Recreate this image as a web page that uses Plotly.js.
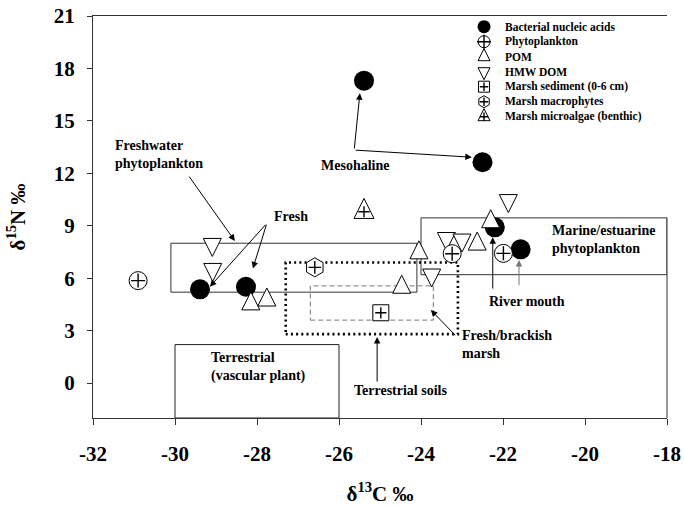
<!DOCTYPE html>
<html><head><meta charset="utf-8">
<script src="https://cdn.plot.ly/plotly-3.0.1.min.js"></script>
<style>html,body{margin:0;padding:0;background:#fff}</style>
</head><body><div id="chart" style="width:684px;height:506px"></div>
<script>
// ---- data ----
const bactX = [-29.39, -28.27, -25.39, -22.50, -22.20, -21.57];
const bactY = [5.36, 5.51, 17.30, 12.63, 8.91, 7.65];
const phytoX = [-30.90, -23.24, -21.99];
const phytoY = [5.86, 7.40, 7.42];
const pomX = [-28.15, -27.76, -24.05, -24.47, -22.63, -22.30];
const pomY = [4.53, 4.75, 7.45, 5.48, 7.95, 9.23];
const hmwX = [-29.09, -29.08, -23.74, -23.38, -23.00, -21.87];
const hmwY = [7.93, 6.50, 6.18, 8.27, 8.18, 10.44];
const sedX = [-24.98], sedY = [4.02];
const macroX = [-26.59], macroY = [6.62];
const algaeX = [-25.39], algaeY = [9.80];

// source regions (boxes)
const regionX0 = [-30.1, -24.0, -30.0, -27.3, -26.7];
const regionX1 = [-24.1, -18.0, -26.0, -23.1, -23.7];
const regionY0 = [5.2, 6.2, -2.0, 2.8, 3.6];
const regionY1 = [8.0, 9.45, 2.2, 6.9, 5.56];

// labels
const labelText = ['Freshwater<br>phytoplankton', 'Fresh', 'Mesohaline', 'Marine/estuarine<br>phytoplankton',
  'River mouth', 'Fresh/brackish<br>marsh', 'Terrestrial soils', 'Terrestrial<br>(vascular plant)'];
const labelX = [-31.52, -27.16, -25.61, -20.85, -21.41, -23.05, -24.51, -29.17];
const labelY = [13.05, 9.52, 12.47, 8.24, 4.65, 2.23, -0.40, 0.89];

// pointer arrows (tail -> head)
const arrowFromX = [-29.68, -27.76, -27.76, -25.63, -25.63, -22.25, -21.61, -23.13, -25.07];
const arrowFromY = [11.90, 9.14, 9.14, 13.33, 13.33, 5.32, 5.51, 2.65, 0.0];
const arrowToX = [-28.54, -29.15, -28.10, -25.49, -22.76, -22.25, -21.61, -23.76, -25.07];
const arrowToY = [8.13, 5.51, 6.56, 16.58, 12.92, 8.34, 7.04, 4.18, 2.63];

// axes
const xTickVals = [-32, -30, -28, -26, -24, -22, -20, -18];
const xTickText = ['-32', '-30', '-28', '-26', '-24', '-22', '-20', '-18'];
const yTickVals = [0, 3, 6, 9, 12, 15, 18, 21];
const yTickText = ['0', '3', '6', '9', '12', '15', '18', '21'];

// legend
const legendNames = ['Bacterial nucleic acids', 'Phytoplankton', 'POM', 'HMW DOM',
  'Marsh sediment (0-6 cm)', 'Marsh macrophytes', 'Marsh microalgae (benthic)'];
const legendRows = [1, 2, 3, 4, 5, 6, 7];

// ---- drawing ----
const FONT = 'Liberation Serif';
const traces = [];
function add(x, y, marker, ax) {
  traces.push({type: 'scatter', mode: 'markers', x: x, y: y, xaxis: ax ? 'x2' : 'x', yaxis: ax ? 'y2' : 'y',
    hoverinfo: 'skip', showlegend: false, cliponaxis: false, marker: marker});
}
const open = (sym, size, extra) => Object.assign({symbol: sym, size: size, color: 'white', line: {color: 'black', width: 1}}, extra || {});
const plus = (size) => ({symbol: 'cross-thin-open', size: size, color: 'black', line: {color: 'black', width: 1.4}});
const triUp = (size) => open('arrow-down', size, {angle: 180, standoff: size * 2 / 3});
const triDown = (size) => open('arrow-down', size, {angle: 0, standoff: size * 2 / 3});

function series(leg) {
  const X = leg ? [0] : null;
  const pick = (arr, i) => leg ? [legendRows[i]] : arr;
  add(leg ? X : bactX, pick(bactY, 0), {symbol: 'circle', size: leg ? 13 : 20, color: 'black', line: {width: 0}}, leg);
  add(leg ? X : hmwX, pick(hmwY, 3), triDown(leg ? 12 : 18), leg);
  add(leg ? X : pomX, pick(pomY, 2), triUp(leg ? 12 : 18), leg);
  add(leg ? X : phytoX, pick(phytoY, 1), open('circle', leg ? 12 : 18), leg);
  add(leg ? X : phytoX, pick(phytoY, 1), plus(leg ? 10 : 10), leg);
  add(leg ? X : sedX, pick(sedY, 4), open('square', leg ? 11 : 16), leg);
  add(leg ? X : sedX, pick(sedY, 4), plus(leg ? 6 : 8), leg);
  add(leg ? X : macroX, pick(macroY, 5), open('hexagon', leg ? 12 : 19), leg);
  add(leg ? X : macroX, pick(macroY, 5), plus(leg ? 6 : 9), leg);
  add(leg ? X : algaeX, pick(algaeY, 6), triUp(leg ? 12 : 20), leg);
  add(leg ? X : algaeX, pick(algaeY, 6), plus(leg ? 6 : 8), leg);
}
series(false);
series(true);

const regionStyle = [
  {color: '#333', width: 1, dash: 'solid'},
  {color: '#333', width: 1, dash: 'solid'},
  {color: '#222', width: 1, dash: 'solid'},
  {color: '#000', width: 2.6, dash: '2px,3.2px'},
  {color: '#777', width: 1, dash: '5px,3px'}
];
const shapes = regionX0.map((x0, i) => ({type: 'rect', xref: 'x', yref: 'y', x0: x0, x1: regionX1[i],
  y0: regionY0[i], y1: regionY1[i], line: regionStyle[i], fillcolor: 'rgba(0,0,0,0)', layer: 'below'}));
shapes.push({type: 'line', xref: 'paper', yref: 'y', x0: 1, x1: 1, y0: -2, y1: regionY1[1], line: {color: '#333', width: 1}});

const labelAlign = ['left', 'center', 'center', 'left', 'center', 'left', 'center', 'left'];
const annotations = labelText.map((t, i) => ({xref: 'x', yref: 'y', x: labelX[i], y: labelY[i], text: t,
  showarrow: false, xanchor: labelAlign[i], align: 'left', yanchor: 'middle',
  font: {family: FONT, size: 14, weight: 'bold', color: 'black'}}));
const arrowColor = ['#000', '#000', '#000', '#000', '#000', '#000', '#777', '#000', '#000'];
arrowToX.forEach((x, i) => annotations.push({xref: 'x', yref: 'y', axref: 'x', ayref: 'y', x: x, y: arrowToY[i],
  ax: arrowFromX[i], ay: arrowFromY[i], text: '', showarrow: true, arrowhead: 2, arrowsize: 1.3, arrowwidth: 1,
  arrowcolor: arrowColor[i], standoff: 0, startstandoff: 0}));
legendNames.forEach((n, i) => annotations.push({xref: 'x2', yref: 'y2', x: 1, y: legendRows[i], text: n,
  showarrow: false, xanchor: 'left', yanchor: 'middle', font: {family: FONT, size: 11.5, weight: 'bold', color: 'black'}}));

const layout = {
  width: 684, height: 506, margin: {l: 93, r: 17, t: 16, b: 88},
  paper_bgcolor: 'white', plot_bgcolor: 'white', showlegend: false,
  font: {family: FONT, color: 'black'},
  xaxis: {range: [-32, -18], tickvals: xTickVals, ticktext: xTickText, ticks: 'outside', ticklen: 6, tickwidth: 1,
    tickcolor: '#333', showline: true, mirror: true, linecolor: '#333', linewidth: 1, showgrid: false, zeroline: false,
    ticklabelstandoff: 11, tickfont: {family: FONT, size: 21, weight: 'bold'},
    title: {text: 'δ<sup>13</sup>C ‰', font: {family: FONT, size: 21, weight: 'bold'}, standoff: 21}},
  yaxis: {range: [-2, 21], tickvals: yTickVals, ticktext: yTickText, ticks: 'outside', ticklen: 5, tickwidth: 1,
    tickcolor: '#333', showline: true, linecolor: '#333', linewidth: 1, showgrid: false, zeroline: false,
    ticklabelstandoff: 8, tickfont: {family: FONT, size: 21, weight: 'bold'},
    title: {text: 'δ<sup>15</sup>N ‰', font: {family: FONT, size: 21, weight: 'bold'}, standoff: 22}},
  xaxis2: {overlaying: 'x', range: [-20.58, 9.63], visible: false, fixedrange: true},
  yaxis2: {overlaying: 'y', range: [27.087, 0.287], visible: false, fixedrange: true},
  shapes: shapes, annotations: annotations
};
Plotly.newPlot('chart', traces, layout, {staticPlot: true, displayModeBar: false});
</script></body></html>
